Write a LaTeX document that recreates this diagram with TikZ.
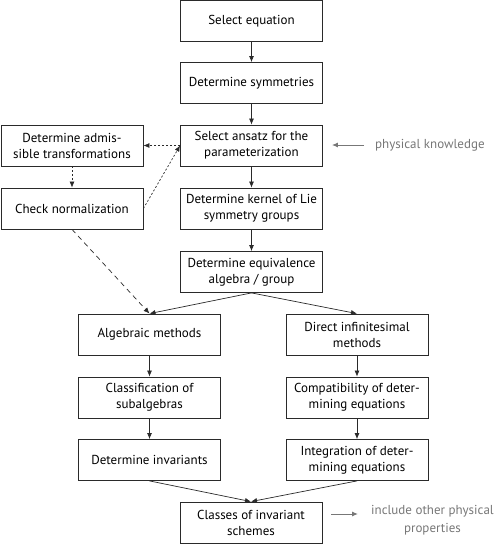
\documentclass[tikz,border=0pt]{standalone}
\usepackage{fontspec}
\setmainfont{PT Sans}
\usetikzlibrary{arrows.meta}
\definecolor{boxline}{HTML}{2A2A2A}
\definecolor{hint}{HTML}{777777}
\tikzset{
  stepbox/.style={draw=boxline, line width=0.8pt, minimum width=142pt, minimum height=41pt,
    inner sep=0pt, align=center, font=\fontsize{13}{16}\selectfont, text=black},
  conn/.style={draw=boxline, line width=0.7pt, -{Latex[length=6pt,width=5pt]}},
  dotconn/.style={conn, dash pattern=on 2pt off 2pt},
  dashconn/.style={conn, dash pattern=on 5pt off 4pt},
  hintarrow/.style={draw=hint, line width=1pt, -{Latex[length=6pt,width=5pt]}},
  hinttext/.style={text=hint, align=center, inner sep=3pt, font=\fontsize{13}{18}\selectfont},
}
\begin{document}
\begin{tikzpicture}[x=1pt,y=-1pt]
\useasboundingbox (0,0) rectangle (497,544);
\node[stepbox] (eq)  at (251.5,21)   {Select equation};
\node[stepbox] (sym) at (251.5,83)   {Determine symmetries};
\node[stepbox] (ans) at (251.5,145.5){Select ansatz for the\\parameterization};
\node[stepbox] (ker) at (251.5,208.5){Determine kernel of Lie\\symmetry groups};
\node[stepbox] (equ) at (251.5,272)  {Determine equivalence\\algebra / group};
\node[stepbox] (alg) at (149.5,334.5){Algebraic methods};
\node[stepbox] (dir) at (357,334.5)  {Direct infinitesimal\\methods};
\node[stepbox] (cls) at (149.5,397.5){Classification of\\subalgebras};
\node[stepbox] (comp) at (357,397.5) {Compatibility of deter-\\mining equations};
\node[stepbox] (inv) at (149.5,460)  {Determine invariants};
\node[stepbox] (integ) at (357,460)  {Integration of deter-\\mining equations};
\node[stepbox] (sch) at (251,522.5)  {Classes of invariant\\schemes};
\node[stepbox] (adm) at (72,145.5)   {Determine admis-\\sible transformations};
\node[stepbox] (chk) at (72,208.5)   {Check normalization};
\node[hinttext, anchor=west] (pk) at (372,145) {physical knowledge};
\node[hinttext, anchor=west] (pp) at (368,520) {include other physical\\properties};

\draw[conn] (eq) -- (sym);
\draw[conn] (sym) -- (ans);
\draw[conn] (ans) -- (ker);
\draw[conn] (ker) -- (equ);
\draw[conn] (equ.south) -- (alg.north);
\draw[conn] (equ.south) -- (dir.north);
\draw[conn] (alg) -- (cls);
\draw[conn] (cls) -- (inv);
\draw[conn] (dir) -- (comp);
\draw[conn] (comp) -- (integ);
\draw[conn] (inv.south) -- (sch.north);
\draw[conn] (integ.south) -- (sch.north);
\draw[dotconn] (ans.west) -- (adm.east);
\draw[dotconn] (adm) -- (chk);
\draw[dotconn] (chk.east) -- (ans.west);
\draw[dashconn] (chk.south) -- (alg.north);
\draw[hintarrow, shorten <=8pt, shorten >=9pt] (pk.west) -- (ans.east |- pk.west);
\draw[hintarrow, shorten <=9pt, shorten >=10pt] (sch.east |- 0,514) coordinate (se) -- (pp.west |- se);
\end{tikzpicture}
\end{document}
